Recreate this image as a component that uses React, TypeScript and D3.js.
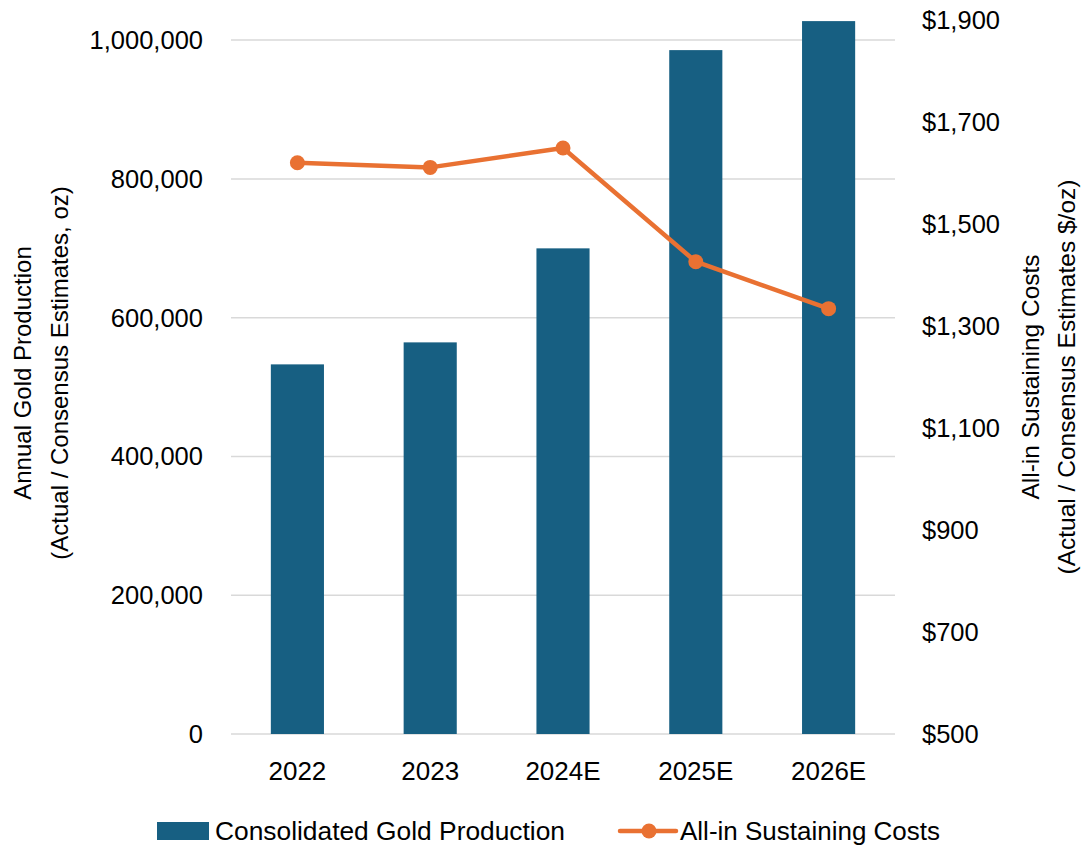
import React from "react";
import * as d3 from "d3";

const categories = ["2022", "2023", "2024E", "2025E", "2026E"];
const production = [532700, 564400, 699900, 985600, 1027400];
const aisc = [1620, 1611, 1649, 1426, 1334];
const leftTicks = [0, 200000, 400000, 600000, 800000, 1000000];
const rightTicks = [500, 700, 900, 1100, 1300, 1500, 1700, 1900];
const seriesNames = ["Consolidated Gold Production", "All-in Sustaining Costs"];
const leftTitle = ["Annual Gold Production", "(Actual / Consensus Estimates, oz)"];
const rightTitle = ["All-in Sustaining Costs", "(Actual / Consensus Estimates $/oz)"];

const W = 1083;
const H = 846;
const M = { left: 231, right: 895, top: 20, bottom: 734 };
const BLUE = "#175F82";
const ORANGE = "#E97132";
const FONT = "'Liberation Sans', Arial, sans-serif";

export default function App() {
  const x = d3.scaleBand<string>().domain(categories).range([M.left, M.right]).paddingInner(0.6).paddingOuter(0.3);
  const yL = d3.scaleLinear().domain([0, 1029000]).range([M.bottom, M.top]);
  const yR = d3.scaleLinear().domain([500, 1900]).range([M.bottom, M.top]);
  const fmtL = d3.format(",");
  const fmtR = (v: number) => "$" + d3.format(",")(v);
  const line = d3
    .line<number>()
    .x((_, i) => (x(categories[i]) as number) + x.bandwidth() / 2)
    .y((d) => yR(d));
  const midY = (M.top + M.bottom) / 2;

  return (
    <svg
      width={W}
      height={H}
      style={{ position: "absolute", left: 0, top: 0, background: "#fff" }}
      fontFamily={FONT}
    >
      <rect width={W} height={H} fill="#fff" />
      {leftTicks.map((t) => (
        <line key={t} x1={M.left} x2={M.right} y1={yL(t)} y2={yL(t)} stroke="#D9D9D9" strokeWidth={1.5} />
      ))}
      {categories.map((c, i) => (
        <rect
          key={c}
          x={x(c)}
          y={yL(production[i])}
          width={x.bandwidth()}
          height={yL(0) - yL(production[i])}
          fill={BLUE}
        />
      ))}
      <path d={line(aisc) || ""} fill="none" stroke={ORANGE} strokeWidth={4.5} strokeLinejoin="round" />
      {aisc.map((v, i) => (
        <circle
          key={i}
          cx={(x(categories[i]) as number) + x.bandwidth() / 2}
          cy={yR(v)}
          r={7.5}
          fill={ORANGE}
        />
      ))}
      {leftTicks.map((t) => (
        <text key={t} x={203} y={yL(t)} dy="0.35em" textAnchor="end" fontSize={25.5} fill="#000">
          {fmtL(t)}
        </text>
      ))}
      {rightTicks.map((t) => (
        <text key={t} x={922} y={yR(t)} dy="0.35em" textAnchor="start" fontSize={25.5} fill="#000">
          {fmtR(t)}
        </text>
      ))}
      {categories.map((c) => (
        <text
          key={c}
          x={(x(c) as number) + x.bandwidth() / 2}
          y={771}
          dy="0.35em"
          textAnchor="middle"
          fontSize={26}
          fill="#000"
        >
          {c}
        </text>
      ))}
      <g transform={`translate(23,${midY - 4}) rotate(-90)`}>
        <text textAnchor="middle" dy="0.35em" fontSize={24} fill="#000">{leftTitle[0]}</text>
      </g>
      <g transform={`translate(60,${midY - 4}) rotate(-90)`}>
        <text textAnchor="middle" dy="0.35em" fontSize={24} fill="#000">{leftTitle[1]}</text>
      </g>
      <g transform={`translate(1030,${midY}) rotate(-90)`}>
        <text textAnchor="middle" dy="0.35em" fontSize={24.5} fill="#000">{rightTitle[0]}</text>
      </g>
      <g transform={`translate(1066,${midY}) rotate(-90)`}>
        <text textAnchor="middle" dy="0.35em" fontSize={24.5} fill="#000">{rightTitle[1]}</text>
      </g>
      <rect x={157} y={822} width={52} height={18} fill={BLUE} />
      <text x={215} y={831} dy="0.35em" fontSize={25} fill="#000" textLength={350} lengthAdjust="spacingAndGlyphs">
        {seriesNames[0]}
      </text>
      <line x1={620} x2={676} y1={831} y2={831} stroke={ORANGE} strokeWidth={4.5} strokeLinecap="round" />
      <circle cx={649} cy={831} r={7.5} fill={ORANGE} />
      <text x={680} y={831} dy="0.35em" fontSize={25} fill="#000" textLength={260} lengthAdjust="spacingAndGlyphs">
        {seriesNames[1]}
      </text>
    </svg>
  );
}
